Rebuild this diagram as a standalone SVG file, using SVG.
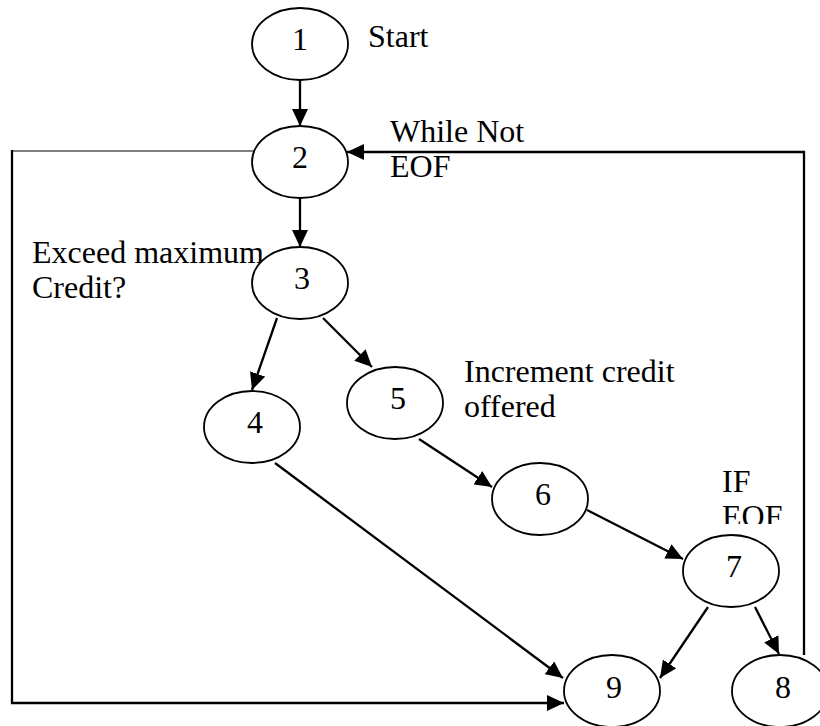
<svg xmlns="http://www.w3.org/2000/svg" width="820" height="726" viewBox="0 0 820 726">
  <style>
    .node ellipse { fill: #ffffff; stroke: #000000; stroke-width: 1.8; }
    .node text { font-family: "Liberation Serif", "Times New Roman", serif; font-size: 32px; fill: #000000; text-anchor: middle; }
    .label { font-family: "Liberation Serif", "Times New Roman", serif; font-size: 32px; fill: #000000; }
    .edge { fill: none; stroke: #000000; stroke-width: 2.3; marker-end: url(#arrow); }
    .thin { fill: none; stroke: #000000; stroke-width: 1.2; }
  </style>
  <defs>
    <marker id="arrow" markerUnits="userSpaceOnUse" markerWidth="17" markerHeight="16" refX="17" refY="8" orient="auto">
      <path d="M0,0 L17,8 L0,16 Z" fill="#000000"/>
    </marker>
    <clipPath id="ifBox">
      <rect x="700" y="460" width="110" height="64"/>
    </clipPath>
  </defs>
  <rect width="820" height="726" fill="#ffffff"/>

  <!-- annotations -->
  <g id="labels">
    <text class="label" x="368" y="47">Start</text>
    <text class="label" x="390" y="142">While Not</text>
    <text class="label" x="390" y="177">EOF</text>
    <text class="label" x="32" y="263">Exceed maximum</text>
    <text class="label" x="32" y="298">Credit?</text>
    <text class="label" x="464" y="382">Increment credit</text>
    <text class="label" x="464" y="417">offered</text>
    <g clip-path="url(#ifBox)">
      <text class="label" x="722" y="492">IF</text>
      <text class="label" x="722" y="527">EOF</text>
    </g>
  </g>

  <!-- connectors -->
  <g id="connectors">
    <path class="edge" d="M300,80 L300,126"/>
    <path class="edge" d="M300,198 L300,247"/>
    <path class="edge" d="M277,318 L252,390"/>
    <path class="edge" d="M323,318 L372,367"/>
    <path class="edge" d="M419,439 L492,487"/>
    <path class="edge" d="M587,510 L683,559"/>
    <path class="edge" d="M708,607 L660,678"/>
    <path class="edge" d="M755,607 L779,654"/>
    <path class="edge" d="M275,463 L563,678"/>
    <!-- loop back to the while test -->
    <path class="edge" d="M804,655 L804,152 L347,152"/>
    <!-- bypass from the while test to the exit -->
    <path class="thin" d="M254,151 L12,151"/>
    <path class="edge" d="M12,150 L12,703 L564,703"/>
  </g>

  <!-- nodes -->
  <g id="n1" class="node"><ellipse cx="300" cy="44" rx="48" ry="36"/><text x="300" y="50">1</text></g>
  <g id="n2" class="node"><ellipse cx="300" cy="162" rx="48" ry="36"/><text x="300" y="168">2</text></g>
  <g id="n3" class="node"><ellipse cx="300" cy="283" rx="48" ry="36"/><text x="302" y="289">3</text></g>
  <g id="n4" class="node"><ellipse cx="252" cy="427" rx="48" ry="36"/><text x="255" y="433">4</text></g>
  <g id="n5" class="node"><ellipse cx="395" cy="403" rx="48" ry="36"/><text x="398" y="409">5</text></g>
  <g id="n6" class="node"><ellipse cx="540" cy="499" rx="48" ry="36"/><text x="543" y="505">6</text></g>
  <g id="n7" class="node"><ellipse cx="731" cy="571" rx="48" ry="36"/><text x="734" y="577">7</text></g>
  <g id="n8" class="node"><ellipse cx="780" cy="691" rx="48" ry="36"/><text x="783" y="698">8</text></g>
  <g id="n9" class="node"><ellipse cx="612" cy="691" rx="48" ry="36"/><text x="614" y="698">9</text></g>
</svg>
